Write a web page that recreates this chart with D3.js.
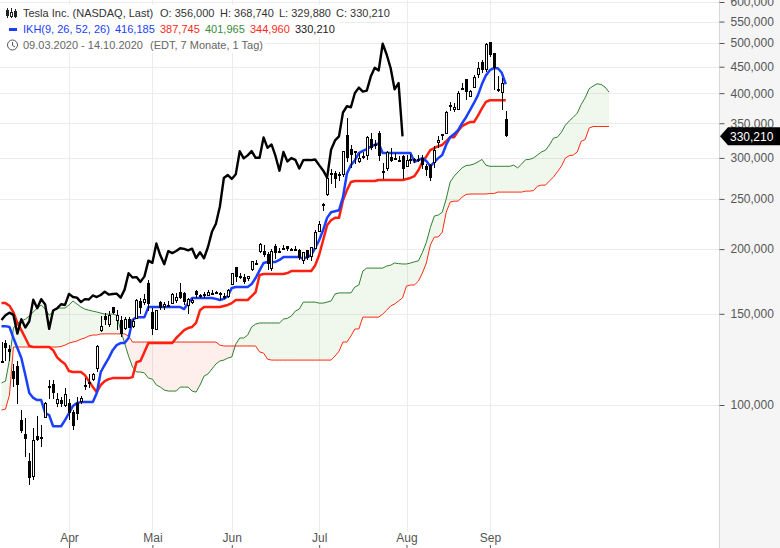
<!DOCTYPE html>
<html><head><meta charset="utf-8">
<script src="https://cdn.jsdelivr.net/npm/d3@7"></script>
<style>html,body{margin:0;padding:0;background:#fff}svg{display:block}text{font-family:"Liberation Sans",Arial,sans-serif}</style>
</head><body><div id="c"></div>
<script>
const opens=[121.1,131.9,128,116.2,119,93.4,88,77.8,73,87.2,86.7,95,109,109.7,101,102.2,100,101,97,101,101.8,109,110.8,112.4,118,139.8,148.4,143.4,154.5,146,146,141,146.9,142,147,159,158,171.7,151,140.2,158,155,155.4,157.4,159.2,165,164.2,156,158,165.9,163,164,163,164.5,165,164.2,162,162,171.6,184.8,177.6,177,175.6,183,188,198.4,198.4,196,183.6,202.4,197.5,200.6,202.5,199.8,199.8,199,190.9,198.9,193.8,201.3,216.6,244.3,256,281,281,279.4,279.2,331.8,312.6,308.6,295.4,302.2,303.8,327,319.8,335.8,283.2,287,300.8,300.2,297.6,303,289.8,299,298.6,298.2,299.9,289.6,291.3,294,322,333,335.4,379.8,373,372.1,408.9,425.3,395,412,436.1,459,444.6,502.1,479,408,402.8,356];
const highs=[132.6,133.6,130.8,120,121.6,98,94.4,80.9,90.4,95.4,91.5,101.3,112,112,105.5,103.6,108,102.8,97.8,103.6,104.3,113,114.7,115.4,130.7,148.8,150.6,151.9,154.9,152.4,148.6,148,147.9,146.4,159.9,160.9,164,174,154,152.5,159,157.9,159,164.8,164.4,172,165,160.7,161,167,163.8,165,166.9,167,165.8,165.5,164.9,167.5,179.8,184.9,179.6,179.2,177.3,190,190.9,205.5,203.8,197.6,199.8,205,201,203.8,203.2,200.8,202.4,200.2,197.2,199,202,217.5,227.1,245.6,275.6,285.9,283.5,281.7,309.8,359,318,310,306.3,307.5,330,335,325.3,337.8,293,309.6,312.9,306.9,302.6,303.4,303.6,305.5,299.9,303.5,303.4,291.5,291.5,317,330.2,333.8,369.2,384.6,382.2,404.4,419.1,425.8,405.6,433.2,459.1,463.7,500.1,502.5,479,431,428,368.74];
const lows=[121,121.6,121.5,108.4,100.4,88.4,79.2,70.1,71.7,85.2,83,95,102.7,102.8,99,99,99,93.5,89.3,93.5,100.5,106.8,108,111.5,116,138.5,142.6,141.5,150.2,139.7,135.5,139.7,140.7,141,146.8,150.2,155.8,152,136.6,139.5,152.6,152.6,155,157,157.5,160.5,156.1,149.7,157,161,160.6,161,163,163,163.5,159.7,160,161,171,173,175,171.5,173.2,181.8,188,196.5,193,182.5,181.7,191,196.5,198.9,198.3,198.2,198.8,190.5,187.4,190.4,189.7,200.8,216,237.1,253.2,267.3,262.3,270.3,275.2,294.2,286.2,291.4,293.2,299.2,297.6,310.5,312.4,296.2,273,282.6,294.9,297.4,294.2,273.2,289,292.4,293.8,295,285.5,277.2,271.2,287,313.5,325.5,334.6,369,368.2,371.4,405,388.5,393.6,410.7,428.5,437.3,440.1,470.5,405.1,402,372,329.88];
const closes=[121.6,129.07,126.85,112.11,109.32,89.01,86.04,72.24,85.53,85.51,86.86,101,107.85,105.63,102.87,100.43,104.8,96.31,90.89,96,103.25,109.09,109.77,114.6,130.19,141.98,145.97,149.04,150.78,149.27,137.34,146.42,141.13,145.03,159.75,153.82,160.1,156.38,140.26,152.24,153.64,156.52,156.01,163.88,161.63,161.19,158,160.1,159.83,162.73,161.6,163.11,165.52,163.38,163.77,164.05,161.16,167,179.62,176.31,176.59,172.88,177.13,189.98,188.13,205.01,194.57,187.06,198.18,196.43,198.36,200.79,200.18,198.86,200.36,192.17,197.2,191.95,201.87,215.96,223.93,241.73,274.32,277.97,273.18,278.86,308.93,299.41,303.36,309.2,300.13,300.17,328.6,313.67,318.47,302.61,283.4,307.92,295.3,299.82,297.5,286.15,297,297.4,297,297.92,290.54,283.71,274.88,310.95,324.2,330.14,367.13,377.42,375.71,400.37,410,402.84,404.67,430.63,447.75,442.68,498.32,475.05,447.37,407,418.32,330.21];
const tenkan=[142,142,141.5,134.7,128.8,123.2,114.3,105.5,103.2,102.2,
102.2,96.5,95.6,91,91,91,93.5,96.5,99.6,100.9,
101.3,101.3,101.3,101.3,105.5,115.8,119.5,123.2,127.6,130.5,
131.7,131.7,134.7,145.9,147.8,147.8,147.8,154.6,154.6,154.6,
154.6,154.6,154.6,154.6,154.6,154.6,153.2,157.4,160.9,160.9,
160.9,160.9,160.9,160.9,160.3,159.5,160.3,162.3,168.3,169,
169,169,169,171.2,175.9,182,188,188.9,188.9,188.9,
190.6,193,193,193,193,193,191.4,193,194.8,201,
208,217.7,229.8,235.6,236.6,237.7,252,280,290.5,297,
306.5,309.5,312,315.5,318,319.8,306.5,306.5,306.5,306.5,
306.5,306.5,306.5,306.5,294.6,297,299.7,296,289,294.6,
299.7,303.8,318,329,333.5,339.4,350,359.5,371,383,
396.6,416.6,433,443,447,447,438,416.2];
const kijun=[157.3,157.3,155.5,151,144,139.5,134.7,130,129.4,129.4,
129.4,129.4,129.4,127.6,123.6,121.6,120,116.3,115.8,115.8,
115.8,114.2,111.2,108.3,105.9,109.3,111.2,112.2,112.7,112.7,
112.7,112.7,112.7,113.2,121,121.6,126.6,131.7,131.7,131.7,
131.7,131.7,131.7,131.7,134.7,137,139.5,140.8,141.5,144,
152.4,154.6,154.6,154.6,154.6,154.6,155.3,156,157.3,159.5,
159.5,159.5,159.5,162.3,165.2,178.2,179,179,179,179,
179,179,179.8,181.4,181.4,181.4,181.4,181.4,181.4,186,
194.8,208,222.3,227.4,229.8,229.8,248.6,260,269.6,270.8,
270.8,270.8,270.8,270.8,270.8,272,272,272,272,272,
272,272,273.2,274.4,276.6,284,294.6,302,310.5,313.5,
316,317.8,323,329,329,338,345.6,349,351.8,351.8,
362,374,385,387.7,387.7,387.7,387.7,387.7];
const senkouA=[110.3,111.2,122.1,140.8,144,145.2,146.5,148.5,151.2,153.9,
156,153.2,149.1,151.2,153.9,153.9,153.9,156,158.8,156.7,
154.6,153.2,152.4,151.8,151.2,150.5,149.8,149.8,149.8,149.1,
139.5,131.7,124.3,118.4,115.8,115.8,115.3,112.7,112.2,109.3,
108.3,106.9,106.4,106.4,106.4,108.3,108.3,108.3,106.4,105.9,
109.3,113.7,114.8,117.4,120,121.6,122.1,123.2,123.8,131.1,
134.7,134.7,136.5,141.5,143.3,144,144,144,144,144,
144,146.5,147,148.5,151.8,153.2,158,158,158,158,
157.3,157.3,158,158.8,163.8,164.6,164.6,164.6,164.6,169,
170.5,181.4,183.8,183.8,183.8,183.8,183.8,185.5,186.2,188,
187.5,187.2,187.2,188,189,189.8,197,206,220,231.6,
232.7,235.6,250,269.6,276.6,282,287,290,290.5,292,
294.6,298,290.5,289,289,289,289,289,289,290.5,
287,292,297.6,298,300,304,308,310.5,317.8,327.5,
329,336,347,353.6,359.5,366,380.5,392,408,413,
417,416,411,401.965];
const senkouB=[97.8,98.2,104.5,129.4,129.4,129.4,129.4,129.4,129.4,129.4,
129.4,129.4,129.4,129.4,129.4,129.7,130.5,131.7,132.3,132.9,
134,134.7,135.9,136.5,136.5,137.2,137.2,137.2,137.2,137.2,
137.2,137.2,135.9,132.3,132.3,132.3,132.3,132.3,132.3,132.3,
132.3,132.3,132.3,132.3,132.3,132.3,132.3,132.3,132.3,132.3,
132.3,132.3,132.3,132.3,132.3,130.5,130,130,130,130,
130,130,130,130,130,126.6,126,122.6,122.1,122.1,
122.1,122.1,122.1,122.1,122.1,122.1,122.1,122.1,122.1,122.1,
122.1,122.1,122.1,122.1,124.3,127,132.3,132.3,135.9,140.2,
140.2,147.8,147.8,147.8,147.8,147.8,149.8,152.4,155.3,156.7,
158.8,161,169.7,170.5,170.5,173.5,179.8,188,203.6,211,
211,215.6,235.6,246.5,247.5,247.5,252,255,255.5,255.5,
255.5,255.5,255.5,256,256,257.7,257.7,257.7,257.7,257.7,
257.7,257.7,258.8,258.8,259.5,264.6,265.8,265.8,270.8,275.4,
282,289,299.7,303,303.8,308,323,325.6,342.5,344.96,
344.96,344.96,344.96,344.96];
const yTicks=[100,150,200,250,300,350,400,450,500,550,600];
const yLabels=["100,000","150,000","200,000","250,000","300,000","350,000","400,000","450,000","500,000","550,000","600,000"];
const monthIdx=[17,38,58,80,102,123];
const monthLabels=["Apr","Mai","Jun","Jul","Aug","Sep"];
const lastPrice=330.21, lastLabel="330,210";
const chikouShift=26;
const legendRows=[
 [["Tesla Inc. (NASDAQ, Last)",23,"#333"],["O: 356,000",160,"#333"],["H: 368,740",220,"#333"],["L: 329,880",279,"#333"],["C: 330,210",336,"#333"]],
 [["IKH(9, 26, 52, 26)",23,"#1a40ff"],["416,185",115,"#1a40ff"],["387,745",160,"#ff2a1a"],["401,965",205,"#3a8a3a"],["344,960",250,"#ff2a1a"],["330,210",295,"#222"]],
 [["09.03.2020 - 14.10.2020",23,"#666"],["(EDT, 7 Monate, 1 Tag)",150,"#666"]]];
const legendWidths=[400,340,265];

const W=780,H=548,plotR=719;
const svg=d3.select("#c").append("svg").attr("width",W).attr("height",H);
const x=d3.scaleLinear().domain([0,153]).range([1.5,609]);
const y=d3.scaleLog().domain([100,600]).range([405,2]);

svg.append("rect").attr("x",plotR).attr("y",0).attr("width",W-plotR).attr("height",H).attr("fill","#f5f5f5");
svg.append("line").attr("x1",plotR+.5).attr("x2",plotR+.5).attr("y1",0).attr("y2",H).attr("stroke","#d8d8d8");

const grid=svg.append("g").attr("stroke","#ececec").attr("shape-rendering","crispEdges");
grid.selectAll(".h").data(yTicks).join("line").attr("x1",0).attr("x2",plotR).attr("y1",d=>Math.round(y(d))+.5).attr("y2",d=>Math.round(y(d))+.5);
grid.selectAll(".v").data(monthIdx).join("line").attr("y1",0).attr("y2",532).attr("x1",d=>Math.round(x(d))+.5).attr("x2",d=>Math.round(x(d))+.5);

const idx=d3.range(senkouA.length);
const green=d3.area().x(i=>x(i)).y0(i=>y(senkouB[i])).y1(i=>y(Math.max(senkouA[i],senkouB[i])));
const red=d3.area().x(i=>x(i)).y0(i=>y(senkouB[i])).y1(i=>y(Math.min(senkouA[i],senkouB[i])));
svg.append("path").attr("d",green(idx)).attr("fill","rgba(90,165,50,.09)");
svg.append("path").attr("d",red(idx)).attr("fill","rgba(240,70,40,.09)");

const lineOf=arr=>d3.line().x((d,i)=>x(i)).y(d=>y(d))(arr);
const drawLine=(arr,c,w)=>svg.append("path").attr("d",lineOf(arr)).attr("fill","none").attr("stroke",c).attr("stroke-width",w).attr("stroke-linejoin","round");
drawLine(senkouA,"#2f8030",1);
drawLine(senkouB,"#ff2a10",1);
drawLine(kijun,"#ff2010",2.5);
drawLine(tenkan,"#1a40ff",2.5);
drawLine(closes.slice(chikouShift),"#000",2.4);

const cg=svg.append("g").attr("shape-rendering","crispEdges");
closes.forEach((c,i)=>{
  const px=Math.round(x(i)), o=opens[i];
  cg.append("line").attr("x1",px+.5).attr("x2",px+.5).attr("y1",y(highs[i])).attr("y2",y(lows[i])).attr("stroke","#000");
  const top=Math.round(y(Math.max(o,c))), bot=Math.round(y(Math.min(o,c)));
  if(c>=o){
    cg.append("rect").attr("x",px-.5).attr("y",top+.5).attr("width",2).attr("height",Math.max(bot-top,1)).attr("fill","#fff").attr("stroke","#000");
  } else {
    cg.append("rect").attr("x",px-1).attr("y",top).attr("width",3).attr("height",Math.max(bot-top,2)).attr("fill","#000");
  }
});

const ay=svg.append("g").attr("transform",`translate(${plotR+.5},0)`).call(d3.axisRight(y).tickValues(yTicks).tickFormat((d,i)=>yLabels[i]).tickSize(5).tickPadding(6));
ay.select(".domain").remove();
ay.selectAll("line").attr("stroke","#555");
ay.selectAll("text").attr("fill","#555").style("font-size","12px").style("font-family","'Liberation Sans',Arial,sans-serif");

const ax=svg.append("g").attr("transform",`translate(0,${H})`).call(d3.axisTop(x).tickValues(monthIdx).tickFormat((d,i)=>monthLabels[i]).tickSize(3).tickPadding(3));
ax.select(".domain").remove();
ax.selectAll("line").attr("stroke","#555");
ax.selectAll("text").attr("fill","#555").style("font-size","12px").style("font-family","'Liberation Sans',Arial,sans-serif");

const ty=y(lastPrice);
svg.append("path").attr("d",d3.line()([[720,ty],[728,ty-9],[780,ty-9],[780,ty+9],[728,ty+9]])+"Z").attr("fill","#000");
svg.append("text").attr("x",730).attr("y",ty+4.5).attr("fill","#fff").style("font-size","12px").text(lastLabel);

legendRows.forEach((row,r)=>{
  const cy=13+16*r;
  svg.append("rect").attr("x",0).attr("y",cy-8).attr("width",legendWidths[r]).attr("height",16).attr("fill","#fff");
  row.forEach(t=>svg.append("text").attr("x",t[1]).attr("y",cy+4).attr("fill",t[2]).style("font-size","11px").text(t[0]));
});
const ic=svg.append("g").attr("stroke","#222").attr("shape-rendering","crispEdges");
[[7,8,18,10,15,true],[11,8,18,12,16,false],[15,9,18,11,16,true]].forEach(d=>{
  ic.append("line").attr("x1",d[0]+.5).attr("x2",d[0]+.5).attr("y1",d[1]).attr("y2",d[2]);
  ic.append("rect").attr("x",d[0]-.5).attr("y",d[3]+.5).attr("width",2).attr("height",d[4]-d[3]).attr("fill",d[5]?"#222":"#fff");
});
svg.append("rect").attr("x",9).attr("y",28).attr("width",8).attr("height",3).attr("fill","#1a40ff");
const clock=svg.append("g").attr("stroke","#555").attr("fill","none");
clock.append("circle").attr("cx",12.5).attr("cy",45).attr("r",5);
clock.append("path").attr("d","M12.5 42V45.5L15 47");
</script></body></html>
